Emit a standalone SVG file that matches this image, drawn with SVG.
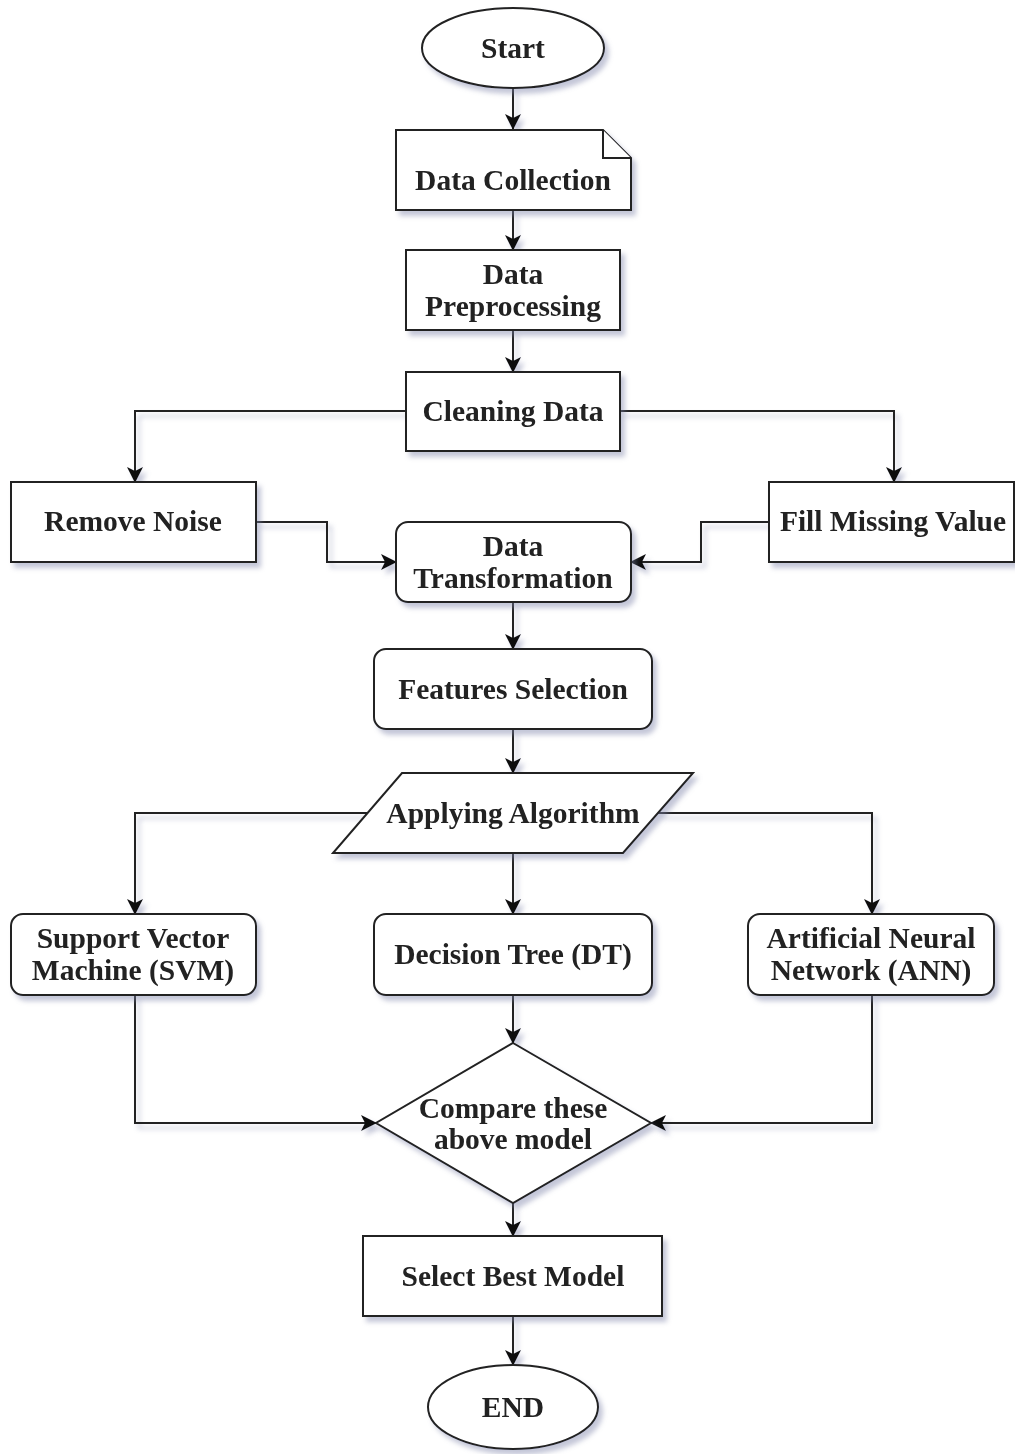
<svg xmlns="http://www.w3.org/2000/svg" width="1015" height="1454" viewBox="0 0 1015 1454">
<defs>
<filter id="sh" x="-10%" y="-10%" width="130%" height="140%">
<feGaussianBlur in="SourceAlpha" stdDeviation="2.5"/>
<feOffset dx="4" dy="5" result="b"/>
<feFlood flood-color="#7c82a8" flood-opacity="0.45"/>
<feComposite in2="b" operator="in"/>
<feMerge><feMergeNode/><feMergeNode in="SourceGraphic"/></feMerge>
</filter>
<marker id="ah" viewBox="0 0 16 16" refX="15" refY="8" markerWidth="16" markerHeight="16" markerUnits="userSpaceOnUse" orient="auto">
<path d="M0,0 L16,8 L0,16 L4,8 z" fill="#111"/>
</marker>
</defs>
<style>
.s{fill:#fff;stroke:#222;stroke-width:2}
.c{fill:none;stroke:#222;stroke-width:2;marker-end:url(#ah)}
text{font-family:"Liberation Serif","Times New Roman",serif;font-weight:bold;font-size:29.5px;fill:#222;text-anchor:middle}
</style>
<rect width="1015" height="1454" fill="#fff"/>
<g id="connectors" filter="url(#sh)">
<path class="c" d="M513,88 V129"/>
<path class="c" d="M513,210 V250"/>
<path class="c" d="M513,330 V372"/>
<path class="c" d="M406,411 H135 V482"/>
<path class="c" d="M620,411 H894 V482"/>
<path class="c" d="M256,522 H327 V562 H396"/>
<path class="c" d="M769,522 H701 V562 H631"/>
<path class="c" d="M513,602 V649"/>
<path class="c" d="M513,729 V773"/>
<path class="c" d="M368,813 H135 V914"/>
<path class="c" d="M658,813 H872 V914"/>
<path class="c" d="M513,853 V914"/>
<path class="c" d="M513,995 V1043"/>
<path class="c" d="M135,995 V1123 H376"/>
<path class="c" d="M872,995 V1123 H651"/>
<path class="c" d="M513,1203 V1236"/>
<path class="c" d="M513,1316 V1365"/>
</g>
<g id="start" filter="url(#sh)">
<ellipse class="s" cx="513" cy="48" rx="91" ry="40"/>
<text x="513" y="58">Start</text>
</g>
<g id="data-collection" filter="url(#sh)">
<path class="s" d="M396,130 H603 L631,158 V210 H396 Z"/>
<path class="s" d="M603,130 V158 H631" fill="none"/>
<text x="513" y="190">Data Collection</text>
</g>
<g id="data-preprocessing" filter="url(#sh)">
<rect class="s" x="406" y="250" width="214" height="80"/>
<text x="513" y="284">Data</text>
<text x="513" y="316">Preprocessing</text>
</g>
<g id="cleaning-data" filter="url(#sh)">
<rect class="s" x="406" y="372" width="214" height="79"/>
<text x="513" y="421">Cleaning Data</text>
</g>
<g id="remove-noise" filter="url(#sh)">
<rect class="s" x="11" y="482" width="245" height="80"/>
<text x="133" y="531">Remove Noise</text>
</g>
<g id="fill-missing-value" filter="url(#sh)">
<rect class="s" x="769" y="482" width="245" height="80"/>
<text x="893" y="531">Fill Missing Value</text>
</g>
<g id="data-transformation" filter="url(#sh)">
<rect class="s" x="396" y="522" width="235" height="80" rx="12"/>
<text x="513" y="556">Data</text>
<text x="513" y="588">Transformation</text>
</g>
<g id="features-selection" filter="url(#sh)">
<rect class="s" x="374" y="649" width="278" height="80" rx="12"/>
<text x="513" y="699">Features Selection</text>
</g>
<g id="applying-algorithm" filter="url(#sh)">
<path class="s" d="M402,773 H693 L623,853 H333 Z"/>
<text x="513" y="823">Applying Algorithm</text>
</g>
<g id="svm" filter="url(#sh)">
<rect class="s" x="11" y="914" width="245" height="81" rx="12"/>
<text x="133" y="948">Support Vector</text>
<text x="133" y="980">Machine (SVM)</text>
</g>
<g id="decision-tree" filter="url(#sh)">
<rect class="s" x="374" y="914" width="278" height="81" rx="12"/>
<text x="513" y="964">Decision Tree (DT)</text>
</g>
<g id="ann" filter="url(#sh)">
<rect class="s" x="748" y="914" width="246" height="81" rx="12"/>
<text x="871" y="948">Artificial Neural</text>
<text x="871" y="980">Network (ANN)</text>
</g>
<g id="compare" filter="url(#sh)">
<path class="s" d="M513,1043 L651,1123 L513,1203 L376,1123 Z"/>
<text x="513" y="1118">Compare these</text>
<text x="513" y="1149">above model</text>
</g>
<g id="select-best-model" filter="url(#sh)">
<rect class="s" x="363" y="1236" width="299" height="80"/>
<text x="513" y="1286">Select Best Model</text>
</g>
<g id="end" filter="url(#sh)">
<ellipse class="s" cx="513" cy="1407" rx="85" ry="42"/>
<text x="513" y="1417">END</text>
</g>
</svg>
